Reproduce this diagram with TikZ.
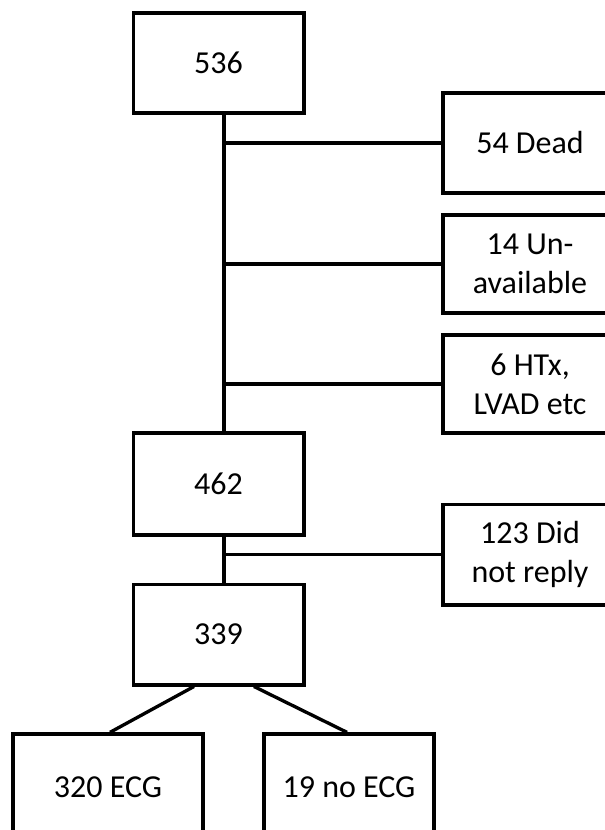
\documentclass[tikz,border=0pt]{standalone}
\usepackage{fontspec}
\setmainfont{Carlito}
\usepackage{tikz}
\usetikzlibrary{positioning}
\tikzset{
	flowbox/.style={draw, line width=2.5pt, align=center, font=\fontsize{24}{29}\selectfont, inner sep=0pt},
	link/.style={line width=2.5pt},
}

\begin{document}
\begin{tikzpicture}[x=0.75pt, y=-0.75pt]
		\useasboundingbox (0,0) rectangle (605,830);
		
		\node[flowbox, minimum width=128pt, minimum height=75pt] (n536) at (218.5,63) {536};
		\node[flowbox, minimum width=128pt, minimum height=76.5pt] (n462) at (218.5,484) {462};
		\node[flowbox, minimum width=128pt, minimum height=75.5pt] (n339) at (218.5,634.5) {339};
		
		\node[flowbox, minimum width=130.5pt, minimum height=75pt] (dead) at (530,143) {54 Dead};
		\node[flowbox, minimum width=130.5pt, minimum height=73.5pt] (unavail) at (530,264) {14 Un-\\available};
		\node[flowbox, minimum width=130.5pt, minimum height=73.5pt] (htx) at (530,384) {6 HTx,\\LVAD etc};
		\node[flowbox, minimum width=130.5pt, minimum height=75.5pt] (noreply) at (530,554.5) {123 Did\\not reply};
		
		\node[flowbox, minimum width=142.5pt, minimum height=79.5pt] (ecg) at (108,787) {320 ECG};
		\node[flowbox, minimum width=127.5pt, minimum height=79.5pt] (noecg) at (349,787) {19 no ECG};
		
		\coordinate (spine) at (224,0);
		
		\draw[link] (n536.south -| spine) -- (n462.north -| spine);
		\draw[link] (n462.south -| spine) -- (n339.north -| spine);
		
		\draw[link] (dead.west) -- (dead.west -| spine);
		\draw[link] (unavail.west) -- (unavail.west -| spine);
		\draw[link] (htx.west) -- (htx.west -| spine);
		\draw[link] (noreply.west) -- (noreply.west -| spine);
		
		\draw[link] ([xshift=-18.4pt]n339.south) -- ([xshift=1.5pt]ecg.north);
		\draw[link] ([xshift=26.6pt]n339.south) -- ([xshift=-1.5pt]noecg.north);
	\end{tikzpicture}
\end{document}
